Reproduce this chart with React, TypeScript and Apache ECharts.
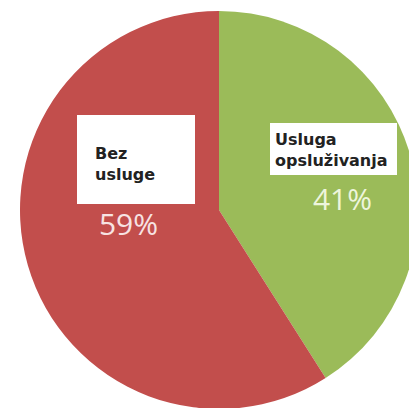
import React, { useEffect, useRef } from "react";
import * as echarts from "echarts";

const categories = ["Usluga opsluživanja", "Bez usluge"];
const values = [41, 59];
const labelLines = [["Usluga", "opsluživanja"], ["Bez", "usluge"]];
const sliceColors = ["#9BBB59", "#C24E4C"];
const percentColors = ["#eef5dc", "#f7e3e3"];

export default function App() {
  const ref = useRef<HTMLDivElement>(null);
  useEffect(() => {
    document.body.style.margin = "0";
    const chart = echarts.init(ref.current!, null, { renderer: "svg" });
    const boxes = [
      { x: 270, y: 123, w: 127, h: 52, tx: 275, ty: 128.5, px: 342.5, py: 198 },
      { x: 77, y: 115, w: 118, h: 89, tx: 95, ty: 142.5, px: 128.5, py: 223 },
    ];
    const graphic: any[] = [];
    categories.forEach((c, i) => {
      const b = boxes[i];
      graphic.push({
        type: "rect",
        shape: { x: b.x, y: b.y, width: b.w, height: b.h },
        style: { fill: "#ffffff" },
        z: 10,
      });
      graphic.push({
        type: "text",
        x: b.tx,
        y: b.ty,
        style: {
          text: labelLines[i].join("\n"),
          fontFamily: "DejaVu Sans",
          fontWeight: "bold",
          fontSize: 16,
          lineHeight: 21.5,
          fill: "#222222",
          verticalAlign: "top",
          align: "left",
        },
        z: 11,
      });
      graphic.push({
        type: "text",
        x: b.px,
        y: b.py,
        style: {
          text: values[i] + "%",
          fontFamily: "Open Sans",
          fontSize: 30,
          fill: percentColors[i],
          align: "center",
          verticalAlign: "middle",
        },
        z: 11,
      });
    });
    chart.setOption({
      animation: false,
      backgroundColor: "#ffffff",
      series: [
        {
          type: "pie",
          center: [219, 210],
          radius: 199,
          startAngle: 90,
          clockwise: true,
          label: { show: false },
          labelLine: { show: false },
          itemStyle: { borderWidth: 0 },
          emphasis: { disabled: true },
          data: categories.map((c, i) => ({
            name: c,
            value: values[i],
            itemStyle: { color: sliceColors[i] },
          })),
        },
      ],
      graphic,
    });
    return () => chart.dispose();
  }, []);
  return <div ref={ref} style={{ width: 409, height: 408 }} />;
}
